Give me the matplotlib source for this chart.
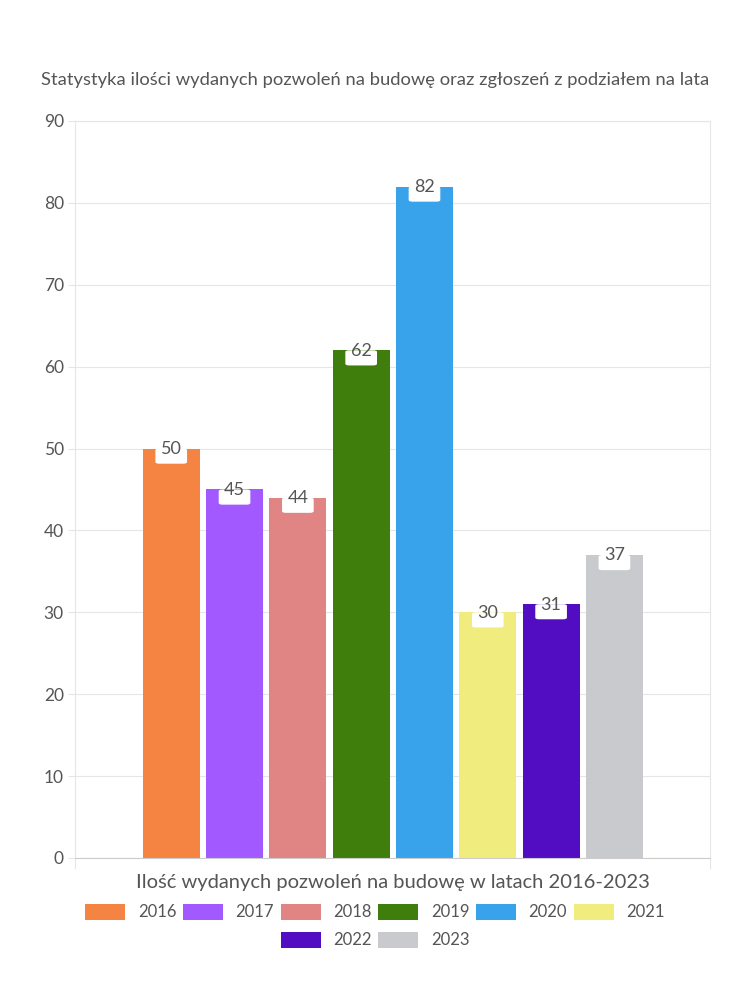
import matplotlib
matplotlib.use("Agg")
import matplotlib.pyplot as plt
from matplotlib.patches import FancyBboxPatch, Patch

plt.rcParams["font.family"] = ["Lato", "DejaVu Sans"]

# ── Data ──────────────────────────────────────────────────────────────────────
years = ["2016", "2017", "2018", "2019", "2020", "2021", "2022", "2023"]
values = [50, 45, 44, 62, 82, 30, 31, 37]
colors = ["#F58442", "#A259FF", "#E08484", "#3F7D0C",
          "#38A3EA", "#F0EC7E", "#520CC2", "#C9CACE"]

title = "Statystyka ilości wydanych pozwoleń na budowę oraz zgłoszeń z podziałem na lata"
xlabel = "Ilość wydanych pozwoleń na budowę w latach 2016-2023"

TXT = "#555555"
GRID = "#e6e6e6"

fig = plt.figure(figsize=(7.5, 10), dpi=100)
ax = fig.add_axes([0.10, 0.142, 0.8467, 0.737])

x = list(range(len(years)))
ax.bar(x, values, width=0.9, color=colors, zorder=2)

# value labels: small white tab hanging from the top of each bar
for xi, v in zip(x, values):
    ax.add_patch(FancyBboxPatch((xi - 0.25, v - 1.85), 0.5, 1.85,
                                boxstyle="round,pad=0,rounding_size=0.06",
                                mutation_aspect=3.5,
                                facecolor="white", edgecolor="none", zorder=3))
    ax.text(xi, v - 0.05, str(v), ha="center", va="center",
            fontsize=13, color=TXT, zorder=4)

ax.set_xlim(-1.52, 8.51)
ax.set_ylim(0, 90)
ax.set_yticks(range(0, 91, 10))
ax.yaxis.grid(True, color=GRID, linewidth=0.8, zorder=0)
ax.tick_params(axis="y", length=5, color=GRID, labelsize=12.5, labelcolor=TXT, pad=3)
ax.set_xticks([-1.52, 8.51])
ax.set_xticklabels(["", ""])
ax.tick_params(axis="x", length=8, color=GRID)

for side in ("left", "right", "top"):
    ax.spines[side].set_color(GRID)
    ax.spines[side].set_linewidth(0.8)
ax.spines["bottom"].set_color("#cccccc")

ax.set_xlabel(xlabel, fontsize=14.5, color=TXT, labelpad=0)
fig.text(0.5, 0.92, title, ha="center", va="center", fontsize=13.2, color=TXT)

# legend in two centred rows
handles = [Patch(facecolor=c, edgecolor="none") for c in colors]
common = dict(frameon=False, fontsize=12, labelcolor=TXT, handlelength=2.4,
              handleheight=1.1, handletextpad=0.75, columnspacing=0.4)
fig.legend(handles[:6], years[:6], ncol=6, loc="center",
           bbox_to_anchor=(0.5, 0.088), **common)
fig.legend(handles[6:], years[6:], ncol=2, loc="center",
           bbox_to_anchor=(0.5, 0.060), **common)

fig.savefig("out.png", dpi=100)
